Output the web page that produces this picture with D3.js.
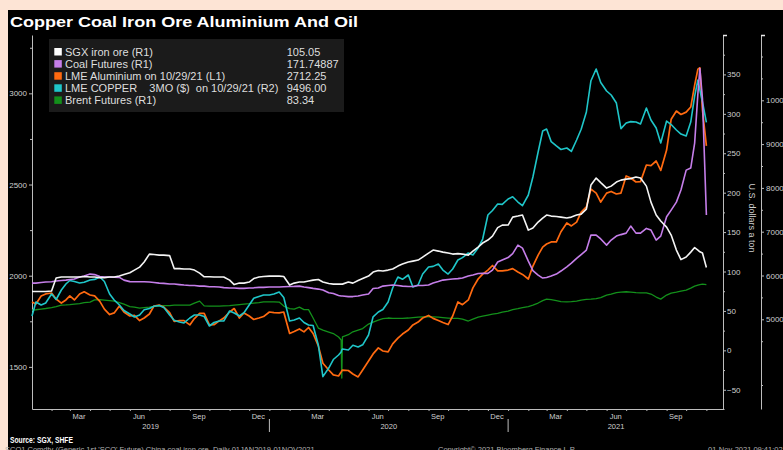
<!DOCTYPE html>
<html>
<head>
<meta charset="utf-8">
<script src="https://cdn.jsdelivr.net/npm/d3@7"></script>
<style>
    body { margin: 0; background: #fde4d5; }
    svg { display: block; }
    text { font-family: "Liberation Sans", Arial, sans-serif; }
</style>
</head>
<body>
<svg width="783" height="450"></svg>
<script>
"use strict";

/**
 * Datas das observacoes (aprox. semanais, mais densas nos picos).
 */
var datas = [
    "2019-01-02", "2019-01-08", "2019-01-16", "2019-01-23",
    "2019-02-01", "2019-02-08", "2019-02-16", "2019-02-23",
    "2019-03-01", "2019-03-08", "2019-03-16", "2019-03-23",
    "2019-04-01", "2019-04-08", "2019-04-16", "2019-04-23",
    "2019-05-01", "2019-05-08", "2019-05-16", "2019-05-23",
    "2019-06-01", "2019-06-08", "2019-06-16", "2019-06-23",
    "2019-07-01", "2019-07-08", "2019-07-16", "2019-07-23",
    "2019-08-01", "2019-08-08", "2019-08-16", "2019-08-23",
    "2019-09-01", "2019-09-08", "2019-09-16", "2019-09-23",
    "2019-10-01", "2019-10-08", "2019-10-16", "2019-10-23",
    "2019-11-01", "2019-11-08", "2019-11-16", "2019-11-23",
    "2019-12-01", "2019-12-08", "2019-12-16", "2019-12-23",
    "2020-01-01", "2020-01-08", "2020-01-16", "2020-01-23",
    "2020-02-01", "2020-02-08", "2020-02-16", "2020-02-23",
    "2020-03-01", "2020-03-08", "2020-03-16", "2020-03-23",
    "2020-04-01", "2020-04-08", "2020-04-16", "2020-04-20", "2020-04-21", "2020-04-22",
    "2020-05-01", "2020-05-08", "2020-05-16", "2020-05-23",
    "2020-06-01", "2020-06-08", "2020-06-16", "2020-06-23",
    "2020-07-01", "2020-07-08", "2020-07-16", "2020-07-23",
    "2020-08-01", "2020-08-08", "2020-08-16", "2020-08-23",
    "2020-09-01", "2020-09-08", "2020-09-16", "2020-09-23",
    "2020-10-01", "2020-10-08", "2020-10-16", "2020-10-23",
    "2020-11-01", "2020-11-08", "2020-11-16", "2020-11-23",
    "2020-12-01", "2020-12-08", "2020-12-16", "2020-12-23",
    "2021-01-01", "2021-01-08", "2021-01-16", "2021-01-23",
    "2021-02-01", "2021-02-08", "2021-02-16", "2021-02-23",
    "2021-03-01", "2021-03-08", "2021-03-16", "2021-03-23",
    "2021-04-01", "2021-04-08", "2021-04-16", "2021-04-23",
    "2021-05-01", "2021-05-08", "2021-05-16", "2021-05-23",
    "2021-06-01", "2021-06-08", "2021-06-16", "2021-06-23",
    "2021-07-01", "2021-07-08", "2021-07-16", "2021-07-23",
    "2021-08-01", "2021-08-08", "2021-08-16", "2021-08-23",
    "2021-09-01", "2021-09-08", "2021-09-16", "2021-09-23",
    "2021-10-01", "2021-10-08", "2021-10-14", "2021-10-19", "2021-10-22", "2021-10-26",
    "2021-11-01"
];

// SGX iron ore (R1)
var minerioFerro = [
    74.6, 74.6, 74.6, 74.6,
    75.2, 91.7, 93.0, 93.0,
    93.0, 93.0, 93.0, 93.6,
    93.0, 93.0, 92.3, 92.3,
    93.0, 93.0, 94.2, 96.1,
    98.4, 101.8, 105.6, 112.0,
    122.1, 121.5, 120.8, 120.8,
    120.2, 103.7, 103.7, 103.1,
    103.1, 101.8, 98.0, 93.3,
    93.3, 93.0, 93.0, 93.0,
    89.1, 83.4, 85.3, 85.3,
    86.6, 91.0, 93.0, 93.6,
    94.2, 94.2, 94.2, 93.6,
    82.8, 85.3, 86.6, 86.6,
    87.9, 89.1, 89.8, 86.6,
    84.7, 84.0, 84.0, 84.0, 84.0, 84.0,
    86.6, 85.3, 88.5, 91.0,
    94.2, 99.3, 101.2, 100.6,
    101.8, 103.1, 106.9, 109.4,
    112.0, 113.2, 114.5, 118.3,
    123.4, 127.2, 125.9, 124.6,
    123.4, 122.1, 122.7, 122.1,
    120.8, 125.9, 131.0, 136.1,
    139.9, 144.9, 155.7, 158.8,
    158.9, 169.0, 170.3, 171.6,
    152.5, 155.1, 162.7, 167.8,
    171.6, 170.3, 169.7, 169.0,
    167.8, 169.0, 171.6, 172.8,
    179.2, 209.7, 218.5, 212.8,
    205.8, 208.3, 213.4, 215.9,
    217.2, 217.8, 219.8, 218.5,
    208.3, 188.0, 171.6, 164.0,
    156.3, 146.2, 127.2, 115.1,
    118.3, 124.6, 130.4, 127.2, 125.0, 123.4,
    105.05
];

// Coal Futures (R1)
var carvao = [
    85.3, 85.3, 86.0, 86.6,
    87.0, 87.9, 88.5, 89.1,
    89.8, 90.4, 93.0, 94.2,
    96.7, 96.1, 93.6, 93.0,
    93.0, 92.8, 92.6, 89.1,
    87.2, 87.0, 87.0, 87.0,
    86.6, 86.0, 85.3, 85.0,
    84.1, 84.1, 83.4, 82.8,
    82.2, 82.2, 81.5, 81.5,
    80.6, 80.6, 80.3, 79.6,
    79.0, 79.0, 78.6, 78.6,
    79.0, 79.3, 79.9, 79.9,
    80.3, 80.3, 80.3, 80.6,
    80.9, 81.1, 81.5, 80.3,
    79.6, 78.6, 77.7, 76.5,
    73.0, 72.0, 69.5, 68.9, 68.9, 68.9,
    68.2, 68.2, 68.9, 70.1,
    71.4, 78.4, 79.0, 81.5,
    82.2, 82.8, 82.2, 81.5,
    80.9, 80.9, 82.2, 82.2,
    82.8, 85.3, 87.2, 89.1,
    89.8, 90.4, 91.0, 91.7,
    94.2, 95.5, 97.4, 97.6,
    97.6, 101.8, 112.0, 114.5,
    117.7, 122.7, 133.5, 129.7,
    113.2, 101.2, 95.5, 91.7,
    92.3, 94.2, 96.7, 100.6,
    106.0, 110.7, 116.7, 121.5,
    127.2, 146.2, 146.2, 141.3,
    133.5, 139.9, 144.9, 146.8,
    148.7, 157.6, 148.7, 148.7,
    154.7, 152.5, 139.9, 144.9,
    169.4, 177.9, 188.0, 203.3,
    228.6, 231.2, 262.9, 326.0, 357.6, 318.6,
    171.75
];

// LME Aluminium (L1)
var aluminio = [
    1856, 1845, 1889, 1900,
    1905, 1872, 1850, 1867,
    1889, 1867, 1900, 1912,
    1894, 1889, 1859, 1817,
    1787, 1796, 1834, 1801,
    1779, 1782, 1754, 1768,
    1790, 1834, 1839, 1828,
    1798, 1749, 1754, 1754,
    1730, 1765, 1793, 1793,
    1730, 1731, 1752, 1768,
    1801, 1820, 1768, 1796,
    1779, 1760, 1768, 1776,
    1801, 1798, 1796, 1801,
    1683, 1694, 1708, 1692,
    1716, 1683, 1615, 1520,
    1483, 1456, 1450, 1472, 1478, 1482,
    1480, 1461, 1445, 1483,
    1532, 1571, 1604, 1587,
    1582, 1626, 1658, 1680,
    1702, 1730, 1746, 1768,
    1782, 1766, 1754, 1743,
    1732, 1779, 1856, 1841,
    1867, 1933, 1982, 2009,
    2031, 2056, 2026, 2026,
    2031, 2039, 2020, 2007,
    1982, 2053, 2113, 2157,
    2174, 2185, 2185, 2241,
    2289, 2273, 2294, 2349,
    2377, 2475, 2453, 2404,
    2453, 2462, 2448, 2453,
    2547, 2536, 2514, 2516,
    2607, 2604, 2629, 2577,
    2689, 2858, 2903, 2884,
    2897, 2925, 3045, 3133, 3140, 2908,
    2712.25
];

// LME COPPER 3MO (R2)
var cobre = [
    5075, 5395, 5326, 5372,
    5578, 5452, 5669, 5806,
    5886, 5863, 5829, 5845,
    5897, 5911, 5966, 5863,
    5578, 5441, 5326, 5201,
    5121, 5053, 5098, 5217,
    5247, 5297, 5315, 5272,
    5098, 4977, 4938, 4916,
    5030, 5098, 5098, 5064,
    4847, 4927, 4961, 4961,
    5189, 5144, 5075, 5151,
    5326, 5482, 5521, 5555,
    5555, 5578, 5623, 5498,
    4961, 4984, 5030, 4927,
    4870, 4858, 4413, 3690,
    3888, 4082, 4185, 4254, 4299, 4320,
    4299, 4406, 4368, 4418,
    4642, 5057, 5167, 5224,
    5395, 5715, 5966, 5913,
    6011, 5737, 5783, 6034,
    6194, 6208, 6262, 6125,
    6034, 6148, 6354, 6409,
    6514, 6468, 6628, 6833,
    7381, 7484, 7632, 7625,
    7746, 7799, 7678, 7593,
    7838, 8249, 8819, 9299,
    9344, 9057, 8957, 8877,
    8911, 8833, 9093, 9340,
    9733, 10447, 10714, 10406,
    10212, 10121, 9938, 9354,
    9481, 9513, 9504, 9459,
    9824, 9550, 9367, 9027,
    9527, 9447, 9322, 9230,
    9185, 9504, 10097, 10463, 10234, 9961,
    9496
];

// Brent Futures (R1)
var brent = [
    51.1, 51.5, 52.4, 53.1,
    54.3, 55.5, 57.4, 57.7,
    58.1, 58.7, 59.3, 60.6,
    61.2, 64.0, 64.4, 63.8,
    63.1, 62.5, 60.6, 58.7,
    55.5, 54.9, 53.6, 54.3,
    54.9, 55.8, 56.2, 56.8,
    56.8, 57.4, 57.4, 57.4,
    57.4, 60.0, 62.5, 56.4,
    56.2, 56.2, 56.2, 56.4,
    56.8, 57.4, 58.1, 58.7,
    59.3, 60.0, 60.6, 61.6,
    61.6, 61.6, 61.2, 56.2,
    53.0, 52.4, 54.9, 51.7,
    51.7, 41.0, 28.3, 25.7,
    23.2, 21.3, 16.9, 13.1, -35.1, 17.2,
    19.8, 23.5, 25.7, 27.6,
    33.3, 35.9, 38.4, 40.3,
    41.0, 40.6, 40.6, 40.6,
    41.0, 41.6, 42.2, 42.5,
    42.6, 42.5, 42.2, 41.6,
    41.0, 40.6, 40.6, 39.7,
    37.2, 39.7, 42.2, 43.5,
    44.8, 46.0, 46.9, 48.6,
    49.8, 51.7, 53.0, 54.3,
    55.5, 57.4, 60.0, 63.1,
    65.0, 64.4, 63.1, 61.9,
    61.6, 61.9, 62.5, 63.8,
    64.7, 65.0, 65.7, 67.0,
    70.1, 71.4, 73.3, 73.9,
    74.3, 73.9, 73.3, 73.0,
    73.0, 71.4, 67.6, 65.0,
    70.1, 72.7, 73.9, 75.2,
    76.5, 79.0, 81.5, 82.8, 83.4, 84.1,
    83.34
];

var nomesLegenda = [
    "SGX iron ore (R1)",
    "Coal Futures (R1)",
    "LME Aluminium on 10/29/21 (L1)",
    "LME COPPER    3MO ($)  on 10/29/21 (R2)",
    "Brent Futures (R1)"
];
var valoresLegenda = ["105.05", "171.74887", "2712.25", "9496.00", "83.34"];

var ticksEsquerda = [1500, 2000, 2500, 3000];
var menoresEsquerda = [1750, 2250, 2750, 3250];
var ticksR1 = [-50, 0, 50, 100, 150, 200, 250, 300, 350];
var menoresR1 = [-25, 25, 75, 125, 175, 225, 275, 325, 375];
var ticksR2 = [5000, 6000, 7000, 8000, 9000, 10000];
var menoresR2 = [3500, 4500, 5500, 6500, 7500, 8500, 9500, 10500, 11000];
var mesesRotulo = ["Mar", "Jun", "Sep", "Dec"];
var anos = [2019, 2020, 2021];

var corEixo = "#bdbdbd";
var corTexto = "#cfcfcf";

var svg = d3.select("svg");
var parse = d3.timeParse("%Y-%m-%d");

// painel preto
svg.append("rect")
    .attr("x", 8).attr("y", 10)
    .attr("width", 775).attr("height", 440)
    .attr("fill", "#000");

svg.append("text")
    .attr("x", 10).attr("y", 26.5)
    .attr("fill", "#fff")
    .attr("font-size", 15.5)
    .attr("font-weight", "bold")
    .attr("textLength", 348)
    .attr("lengthAdjust", "spacingAndGlyphs")
    .text("Copper Coal Iron Ore Aluminium And Oil");

var x = d3.scaleTime()
    .domain([parse("2019-01-02"), parse("2021-11-28")])
    .range([32, 724]);
var yL = d3.scaleLinear().domain([1269, 3320]).range([409, 35]);
var yR1 = d3.scaleLinear().domain([-74.4, 400]).range([409, 35]);
var yR2 = d3.scaleLinear().domain([2952, 11491]).range([409, 35]);

function estilizaEixo(g) {
    g.attr("font-size", 8).attr("font-family", "Liberation Sans, Arial, sans-serif");
    g.select(".domain").attr("stroke", corEixo);
    g.selectAll(".tick line").attr("stroke", corEixo);
    g.selectAll(".tick text").attr("fill", corTexto);
}

function eixoMenor(eixo, x0) {
    var g = svg.append("g").attr("transform", "translate(" + x0 + ",0)").call(eixo);
    g.select(".domain").remove();
    g.selectAll(".tick line").attr("stroke", corEixo);
}

// eixo esquerdo (L1)
svg.append("g")
    .attr("transform", "translate(32,0)")
    .call(d3.axisLeft(yL).tickValues(ticksEsquerda).tickSize(3).tickSizeOuter(0)
        .tickPadding(2).tickFormat(d3.format("d")))
    .call(estilizaEixo);
eixoMenor(d3.axisLeft(yL).tickValues(menoresEsquerda).tickSize(2).tickFormat(""), 32);

// eixo direito R1
svg.append("g")
    .attr("transform", "translate(723,0)")
    .call(d3.axisRight(yR1).tickValues(ticksR1).tickSize(3).tickSizeOuter(0)
        .tickPadding(1).tickFormat(d3.format("d")))
    .call(estilizaEixo);
eixoMenor(d3.axisRight(yR1).tickValues(menoresR1).tickSize(2).tickFormat(""), 723);

// eixo direito R2
svg.append("g")
    .attr("transform", "translate(761,0)")
    .call(d3.axisRight(yR2).tickValues(ticksR2).tickSize(3).tickSizeOuter(0)
        .tickPadding(2).tickFormat(d3.format("d")))
    .call(estilizaEixo);
eixoMenor(d3.axisRight(yR2).tickValues(menoresR2).tickSize(2).tickFormat(""), 761);

// pequenas bandeiras no topo dos eixos direitos
[723, 761].forEach(function (px) {
    svg.append("line")
        .attr("x1", px).attr("x2", px + 4)
        .attr("y1", 35.5).attr("y2", 35.5)
        .attr("stroke", "#e8e8e8").attr("stroke-width", 1.5);
});

svg.append("text")
    .attr("transform", "translate(749,218) rotate(90)")
    .attr("text-anchor", "middle")
    .attr("fill", corTexto)
    .attr("font-size", 9)
    .text("U.S. dollars a ton");

// eixo x com marcas mensais
svg.append("g")
    .attr("transform", "translate(0,409)")
    .call(d3.axisBottom(x).ticks(d3.timeMonth.every(1)).tickSize(2).tickSizeOuter(0).tickFormat(""))
    .call(estilizaEixo);

var parseMes = d3.timeParse("%Y-%b-%d");
anos.forEach(function (ano) {
    mesesRotulo.forEach(function (m) {
        var d = parseMes(ano + "-" + m + "-15");
        if (d > x.domain()[1]) return;
        svg.append("text")
            .attr("x", x(d)).attr("y", 418.5)
            .attr("text-anchor", "middle")
            .attr("fill", corTexto)
            .attr("font-size", 7.5)
            .text(m);
    });
    var ini = d3.max([new Date(ano, 0, 1), x.domain()[0]]);
    var fim = d3.min([new Date(ano + 1, 0, 1), x.domain()[1]]);
    svg.append("text")
        .attr("x", (x(ini) + x(fim)) / 2).attr("y", 429)
        .attr("text-anchor", "middle")
        .attr("fill", corTexto)
        .attr("font-size", 7.5)
        .text(ano);
    if (ano > anos[0]) {
        svg.append("line")
            .attr("x1", x(new Date(ano, 0, 1))).attr("x2", x(new Date(ano, 0, 1)))
            .attr("y1", 419).attr("y2", 432)
            .attr("stroke", corEixo);
    }
});

// series: ordem de desenho (a primeira fica por baixo)
var series = [
    { valores: brent, escala: yR1, cor: "#13901b", largura: 1.3 },
    { valores: aluminio, escala: yL, cor: "#ff6a10", largura: 1.7 },
    { valores: cobre, escala: yR2, cor: "#1fc6c9", largura: 1.6 },
    { valores: carvao, escala: yR1, cor: "#c57ee9", largura: 1.6 },
    { valores: minerioFerro, escala: yR1, cor: "#f4f4f4", largura: 1.6 }
];

var dias = datas.map(parse);

series.forEach(function (s) {
    var pontos = dias.map(function (d, i) {
        return { data: d, valor: s.valores[i] };
    });
    var linha = d3.line()
        .x(function (p) { return x(p.data); })
        .y(function (p) { return s.escala(p.valor); });
    svg.append("path")
        .datum(pontos)
        .attr("fill", "none")
        .attr("stroke", s.cor)
        .attr("stroke-width", s.largura)
        .attr("stroke-linejoin", "round")
        .attr("d", linha);
});

// legenda
var coresLegenda = ["#ffffff", "#c57ee9", "#ff6a10", "#1fc6c9", "#13901b"];
var legenda = svg.append("g");
legenda.append("rect")
    .attr("x", 49).attr("y", 39)
    .attr("width", 295).attr("height", 73)
    .attr("fill", "#1b1b1b");

nomesLegenda.forEach(function (nome, i) {
    var yb = 55.7 + i * 12.1;
    legenda.append("rect")
        .attr("x", 54.3).attr("y", yb - 7.7)
        .attr("width", 7.5).attr("height", 7.5)
        .attr("fill", coresLegenda[i]);
    legenda.append("text")
        .attr("x", 65).attr("y", yb)
        .attr("fill", "#dedede")
        .attr("font-size", 11)
        .style("white-space", "pre")
        .text(nome);
    legenda.append("text")
        .attr("x", 286.7).attr("y", yb)
        .attr("fill", "#dedede")
        .attr("font-size", 11)
        .text(valoresLegenda[i]);
});

// rodape
svg.append("text")
    .attr("x", 10).attr("y", 442.5)
    .attr("fill", "#fff")
    .attr("font-size", 8.3)
    .attr("font-weight", "bold")
    .attr("textLength", 63)
    .attr("lengthAdjust", "spacingAndGlyphs")
    .text("Source: SGX, SHFE");

svg.append("text")
    .attr("x", 5).attr("y", 451.5)
    .attr("fill", "#b0b0b0")
    .attr("font-size", 7.5)
    .style("white-space", "pre")
    .text("SCO1 Comdty (Generic 1st 'SCO' Future) China coal iron ore  Daily 01JAN2019-01NOV2021");

svg.append("text")
    .attr("x", 438).attr("y", 451.5)
    .attr("fill", "#b0b0b0")
    .attr("font-size", 7.5)
    .text("Copyright\u00a9 2021 Bloomberg Finance L.P.");

svg.append("text")
    .attr("x", 708).attr("y", 451.5)
    .attr("fill", "#b0b0b0")
    .attr("font-size", 7.5)
    .text("01-Nov-2021 09:41:02");
</script>
</body>
</html>
